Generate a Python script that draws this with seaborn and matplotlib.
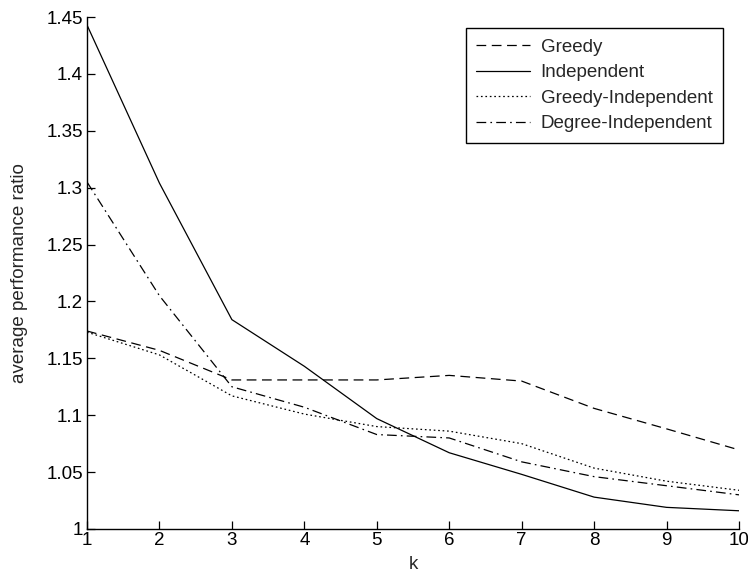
import pandas as pd
import matplotlib
matplotlib.use("Agg")
import matplotlib.pyplot as plt
import seaborn as sns
from matplotlib.ticker import FuncFormatter

k = [1, 2, 3, 4, 5, 6, 7, 8, 9, 10]
greedy = [1.174, 1.157, 1.131, 1.131, 1.131, 1.135, 1.130, 1.106, 1.088, 1.0695]
independent = [1.443, 1.304, 1.184, 1.143, 1.097, 1.067, 1.048, 1.028, 1.019, 1.016]
greedy_indep = [1.173, 1.153, 1.117, 1.101, 1.090, 1.086, 1.075, 1.0535, 1.042, 1.034]
degree_indep = [1.305, 1.205, 1.125, 1.107, 1.083, 1.080, 1.059, 1.046, 1.038, 1.030]
names = ["Greedy", "Independent", "Greedy-Independent", "Degree-Independent"]
y_ticks = [1, 1.05, 1.1, 1.15, 1.2, 1.25, 1.3, 1.35, 1.4, 1.45]

df = pd.DataFrame({"k": k, names[0]: greedy, names[1]: independent,
                   names[2]: greedy_indep, names[3]: degree_indep})
long_df = df.melt(id_vars="k", var_name="method", value_name="ratio")

sns.set_style("ticks")
plt.rcParams['font.family'] = ['Liberation Sans', 'DejaVu Sans']
plt.rcParams['lines.scale_dashes'] = False
fs = 13.5

fig = plt.figure(figsize=(7.48, 5.79), dpi=100)
ax = fig.add_axes([0.1163, 0.0864, 0.8717, 0.8842])

dash_map = {"Greedy": (7, 4), "Independent": "", "Greedy-Independent": (1.2, 2),
            "Degree-Independent": (7, 3, 1.2, 3)}
sns.lineplot(data=long_df, x="k", y="ratio", style="method", style_order=names,
             dashes=dash_map, color="black", linewidth=0.9, ax=ax)

ax.set_xlim(1, 10)
ax.set_ylim(1, 1.45)
ax.set_xticks(k)
ax.set_yticks(y_ticks)
ax.yaxis.set_major_formatter(FuncFormatter(lambda v, p: "%g" % round(v, 2)))
ax.tick_params(direction="in", length=5.5, width=0.9, labelsize=fs, colors="black")
ax.tick_params(axis="x", pad=2.5)
ax.tick_params(axis="y", pad=3)
for s in ["top", "right"]:
    ax.spines[s].set_visible(False)
for s in ["left", "bottom"]:
    ax.spines[s].set_linewidth(1.0)
    ax.spines[s].set_color("black")

ax.set_xlabel("k", fontsize=fs, labelpad=5)
ax.set_ylabel("average performance ratio", fontsize=fs, labelpad=13)

handles, labels = ax.get_legend_handles_labels()
leg = ax.legend(handles, labels, loc="upper right", bbox_to_anchor=(0.975, 0.978),
                borderaxespad=0, fontsize=fs, handlelength=2.9, handletextpad=0.55,
                labelspacing=0.45, borderpad=0.55, fancybox=False, framealpha=1,
                edgecolor="black")
leg.get_frame().set_linewidth(1.0)

fig.savefig("out.png", dpi=100)
